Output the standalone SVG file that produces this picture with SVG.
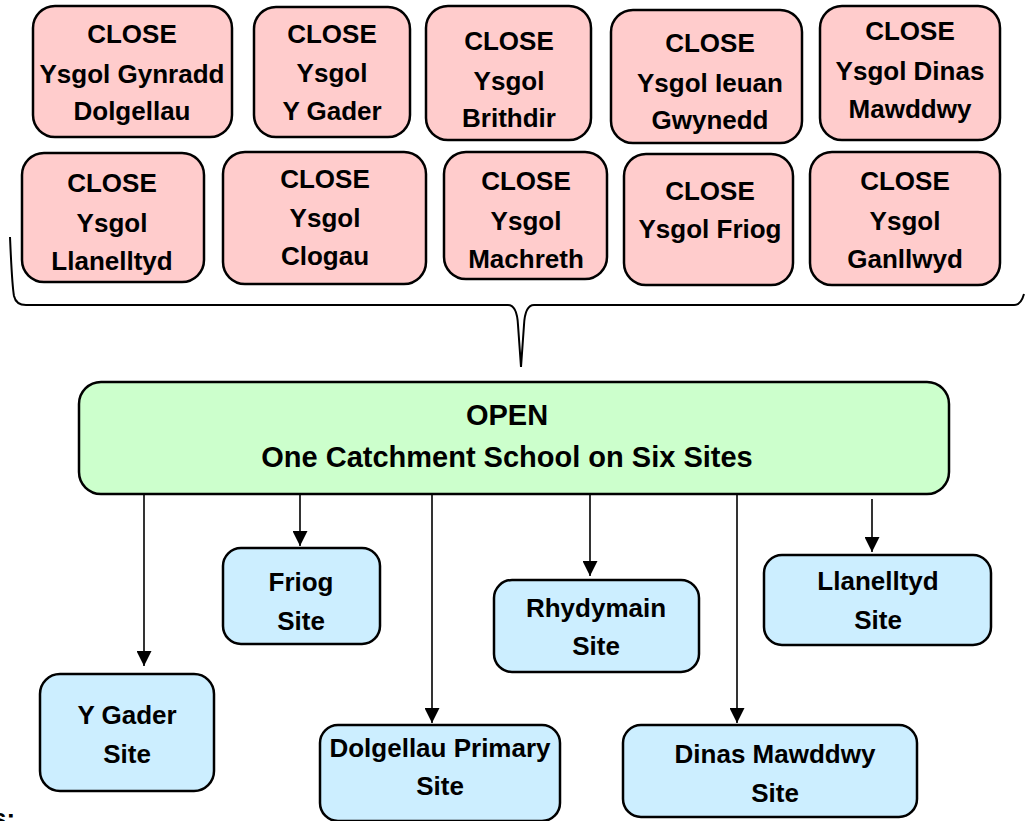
<svg xmlns="http://www.w3.org/2000/svg" width="1028" height="821" viewBox="0 0 1028 821">
<defs>
<style>
.close rect{fill:#ffcccc;stroke:#000;stroke-width:2.5}
.site rect{fill:#cceeff;stroke:#000;stroke-width:2.5}
.open rect{fill:#ccffcc;stroke:#000;stroke-width:2.5}
text{font-family:"Liberation Sans",Arial,sans-serif;font-weight:bold;fill:#000;text-anchor:middle}
.close text{font-size:26px}
.site text{font-size:26px}
.open text{font-size:29px}
.conn line{stroke:#000;stroke-width:1.6}
.brace{fill:none;stroke:#000;stroke-width:2}
</style>
<marker id="ah" viewBox="0 0 10 10" refX="10" refY="5" markerWidth="15" markerHeight="15" markerUnits="userSpaceOnUse" orient="auto">
<path d="M0,0 L10,5 L0,10 z" fill="#000"/>
</marker>
</defs>
<rect width="1028" height="821" fill="#fff"/>

<g id="close-dolgellau" class="close"><rect x="33" y="6" width="199" height="131" rx="22"/>
<text x="132" y="43">CLOSE</text><text x="132" y="83">Ysgol Gynradd</text><text x="132" y="120">Dolgellau</text></g>
<g id="close-ygader" class="close"><rect x="254" y="7" width="156" height="130" rx="22"/>
<text x="332" y="43">CLOSE</text><text x="332" y="82">Ysgol</text><text x="332" y="120">Y Gader</text></g>
<g id="close-brithdir" class="close"><rect x="426" y="6" width="165" height="134" rx="22"/>
<text x="509" y="50">CLOSE</text><text x="509" y="90">Ysgol</text><text x="509" y="127">Brithdir</text></g>
<g id="close-ieuan" class="close"><rect x="611" y="10" width="191" height="133" rx="22"/>
<text x="710" y="52">CLOSE</text><text x="710" y="92">Ysgol Ieuan</text><text x="710" y="129">Gwynedd</text></g>
<g id="close-dinas" class="close"><rect x="820" y="6" width="180" height="134" rx="22"/>
<text x="910" y="40">CLOSE</text><text x="910" y="80">Ysgol Dinas</text><text x="910" y="118">Mawddwy</text></g>
<g id="close-llanelltyd" class="close"><rect x="22" y="153" width="182" height="129" rx="22"/>
<text x="112" y="192">CLOSE</text><text x="112" y="232">Ysgol</text><text x="112" y="270">Llanelltyd</text></g>
<g id="close-clogau" class="close"><rect x="223" y="152" width="203" height="132" rx="22"/>
<text x="325" y="188">CLOSE</text><text x="325" y="227">Ysgol</text><text x="325" y="265">Clogau</text></g>
<g id="close-machreth" class="close"><rect x="444" y="152" width="163" height="127" rx="22"/>
<text x="526" y="190">CLOSE</text><text x="526" y="230">Ysgol</text><text x="526" y="268">Machreth</text></g>
<g id="close-friog" class="close"><rect x="624" y="154" width="169" height="131" rx="22"/>
<text x="710" y="200">CLOSE</text><text x="710" y="238">Ysgol Friog</text></g>
<g id="close-ganllwyd" class="close"><rect x="810" y="152" width="190" height="133" rx="22"/>
<text x="905" y="190">CLOSE</text><text x="905" y="230">Ysgol</text><text x="905" y="268">Ganllwyd</text></g>

<path class="brace" d="M10,237 C11,260 12,285 14,296 Q16,305 26,305 L508,305 Q517,305 518,325 L521,367 L524,325 Q525,305 534,305 L1014,305 Q1021,305 1024,294"/>

<g id="open" class="open"><rect x="79" y="382" width="870" height="112" rx="22"/>
<text x="507" y="425">OPEN</text><text x="507" y="467">One Catchment School on Six Sites</text></g>

<g id="connectors" class="conn">
<line x1="144" y1="494" x2="144" y2="666" marker-end="url(#ah)"/>
<line x1="300" y1="494" x2="300" y2="546" marker-end="url(#ah)"/>
<line x1="432" y1="494" x2="432" y2="723" marker-end="url(#ah)"/>
<line x1="590" y1="494" x2="590" y2="576" marker-end="url(#ah)"/>
<line x1="737" y1="494" x2="737" y2="723" marker-end="url(#ah)"/>
<line x1="872" y1="499" x2="872" y2="552" marker-end="url(#ah)"/>
</g>

<g id="site-ygader" class="site"><rect x="40" y="674" width="174" height="117" rx="20"/>
<text x="127" y="724">Y Gader</text><text x="127" y="763">Site</text></g>
<g id="site-friog" class="site"><rect x="223" y="548" width="157" height="96" rx="18"/>
<text x="301" y="591">Friog</text><text x="301" y="630">Site</text></g>
<g id="site-dolgellau" class="site"><rect x="320" y="725" width="240" height="96" rx="18"/>
<text x="440" y="757">Dolgellau Primary</text><text x="440" y="795">Site</text></g>
<g id="site-rhydymain" class="site"><rect x="494" y="580" width="205" height="92" rx="18"/>
<text x="596" y="617">Rhydymain</text><text x="596" y="655">Site</text></g>
<g id="site-dinas" class="site"><rect x="623" y="725" width="294" height="92" rx="18"/>
<text x="775" y="763">Dinas Mawddwy</text><text x="775" y="802">Site</text></g>
<g id="site-llanelltyd" class="site"><rect x="764" y="555" width="227" height="90" rx="18"/>
<text x="878" y="590">Llanelltyd</text><text x="878" y="629">Site</text></g>

<text x="-8" y="827" style="text-anchor:start;font-size:26px">s:</text>
</svg>
